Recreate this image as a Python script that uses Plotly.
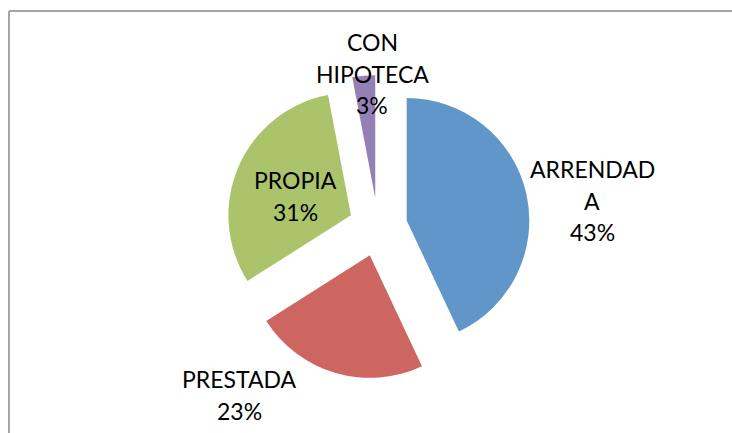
import plotly.graph_objects as go

# %%
# Data: tipo de vivienda
labels = ["ARRENDADA", "PRESTADA", "PROPIA", "CON HIPOTECA"]
values = [43, 23, 31, 3]
# how the labels are wrapped in the original chart
label_lines = [["ARRENDAD", "A"], ["PRESTADA"], ["PROPIA"], ["CON", "HIPOTECA"]]
colors = ["#6096C9", "#CD6660", "#ABC46C", "#9580B5"]

W, H = 732, 433
# label block centres (pixels, first line) and line step
label_pos = [(592, 169), (240, 379), (295, 180), (372, 42)]
line_step = 31.5

fig = go.Figure()
fig.add_trace(
    go.Pie(
        labels=labels,
        values=values,
        sort=False,
        direction="clockwise",
        rotation=0,
        pull=0.24,
        textinfo="none",
        hoverinfo="label+percent",
        marker=dict(colors=colors, line=dict(width=0)),
        showlegend=False,
        domain=dict(x=[(378 - 152) / W, (378 + 152) / W], y=[1 - 379 / H, 1 - 75 / H]),
    )
)

# data labels, one annotation per line
total = sum(values)
annotations = []
for i, lines in enumerate(label_lines):
    pct = f"{round(values[i] / total * 100)}%"
    px, py = label_pos[i]
    for j, t in enumerate(lines + [pct]):
        annotations.append(
            dict(
                x=px / W,
                y=1 - (py + j * line_step) / H,
                xref="paper",
                yref="paper",
                text=t,
                showarrow=False,
                xanchor="center",
                yanchor="middle",
                font=dict(family="Lato", size=23, color="black"),
            )
        )

fig.update_layout(
    width=W,
    height=H,
    margin=dict(l=0, r=0, t=0, b=0),
    paper_bgcolor="white",
    plot_bgcolor="white",
    annotations=annotations,
    shapes=[
        # chart frame (only top and left edges are visible)
        dict(type="line", xref="paper", yref="paper",
             x0=9 / W, x1=1.01, y0=1 - 11 / H, y1=1 - 11 / H,
             line=dict(color="#A6A6A6", width=2)),
        dict(type="line", xref="paper", yref="paper",
             x0=9 / W, x1=9 / W, y0=-0.01, y1=1 - 11 / H,
             line=dict(color="#A6A6A6", width=2)),
    ],
)

# drop the default page margin so the figure sits at the window corner
fig.write_html(
    "out.html",
    config={"displayModeBar": False},
    post_script="document.body.style.margin = '0'; document.body.style.overflow = 'hidden';",
)
